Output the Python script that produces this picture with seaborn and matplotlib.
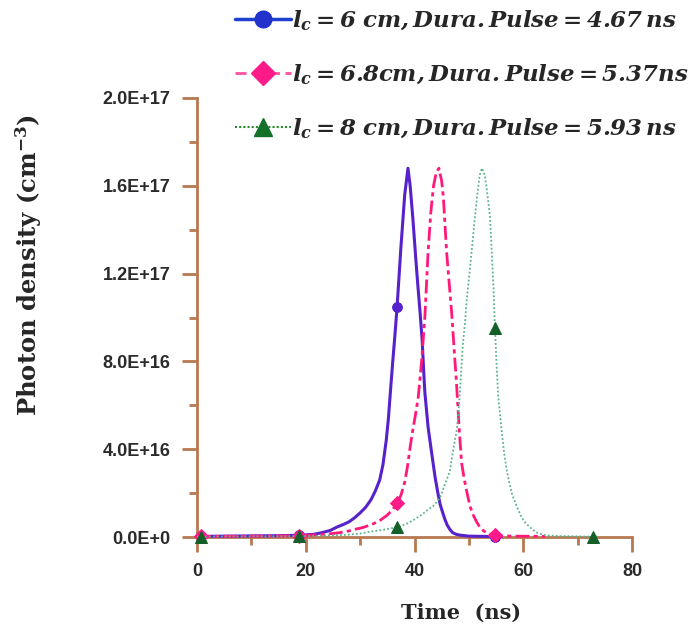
import numpy as np
import pandas as pd
import matplotlib
matplotlib.use("Agg")
import matplotlib.pyplot as plt
from matplotlib.lines import Line2D
from matplotlib.ticker import FixedLocator, MultipleLocator
import seaborn as sns

# ---------------- data (values in units of 1E15 cm^-3) ----------------
t_6cm = [0, 0.8, 5, 10, 15, 18.8, 21.4, 23, 24.5, 25.7, 27, 28, 29, 30, 31, 32,
         32.8, 33.6, 34.2, 34.8, 35.2, 35.5, 36, 36.4, 36.8, 37.5, 38.2, 38.8,
         39.2, 39.7, 40.2, 40.6, 41, 41.4, 41.7, 41.9, 42.2, 42.5, 43, 43.4, 43.8,
         44.3, 44.7, 45.2, 45.6, 46, 46.5, 47, 47.7, 48.5, 50, 54.8, 56]
v_6cm = [0.3, 0.3, 0.4, 0.5, 0.6, 0.8, 1.2, 2, 3, 4.5, 5.8, 7, 8.8, 11, 13.5, 17,
         21, 26, 33, 44, 54, 64, 80, 92, 105, 132, 156, 168,
         160, 145, 128, 115, 103, 90, 75, 66, 58, 50, 41, 34, 27,
         20, 15, 11, 8, 5.5, 3.5, 2, 1.2, 0.8, 0.4, 0.2, 0.2]

t_68cm = [0, 0.8, 10, 18.8, 21, 23, 24.5, 26.3, 28, 29, 30.5, 32.4, 33.8, 35, 36,
          36.8, 37.5, 38.2, 38.7, 39.2, 39.7, 40.2, 40.7, 41.3, 41.9, 42.5, 43,
          43.5, 44, 44.5, 45, 45.3, 45.9, 46.4, 46.9, 47.3, 47.7, 48.2, 48.65,
          49.1, 49.5, 50.2, 50.8, 51.4, 52, 52.6, 53.5, 54.8, 56, 58, 64]
v_68cm = [0.3, 0.3, 0.4, 0.6, 0.9, 1.2, 1.5, 2, 2.8, 3.5, 4.3, 6, 7.8, 10, 12.5,
          15.5, 19, 25, 32, 41, 49, 56, 64, 80, 100, 130, 148,
          160, 166, 168, 162, 155, 130, 115, 100, 85, 71, 50, 34,
          27, 22, 14, 10, 7, 4.5, 3, 1.6, 0.8, 0.5, 0.4, 0.3]

t_8cm = [0, 0.8, 10, 18.8, 23, 27.5, 30, 32, 34.5, 36.8, 38.5, 40, 41.5, 42.5,
         43.4, 44.1, 44.7, 45.3, 45.9, 46.5, 47, 47.5, 47.8, 48.3, 48.6, 48.9,
         49.3, 49.6, 50.1, 50.5, 51, 51.5, 52, 52.4, 52.9, 53.2, 53.6, 53.9,
         54.2, 54.5, 54.8, 55.1, 55.4, 56, 56.5, 57, 57.5, 58, 58.8, 59.5, 60.2,
         61.2, 62.3, 63.6, 65, 67, 70, 72.8, 74]
v_8cm = [0.2, 0.2, 0.3, 0.4, 0.6, 1, 1.6, 2.5, 3.4, 4.5, 6, 8, 10.5, 12.5,
         14, 16, 18, 22, 26, 30, 38, 45, 49, 64, 76, 88,
         98, 108, 120, 130, 143, 155, 165, 168, 165, 160, 152, 145,
         130, 115, 95, 78, 64, 49, 38, 30, 24, 19, 14, 10, 7,
         4.5, 2.2, 1, 0.6, 0.4, 0.3, 0.2, 0.2]

marker_times = [0.8, 18.8, 36.8, 54.8, 72.8]

labels = [r"$\mathbfit{l_c = 6\ cm, Dura.Pulse = 4.67\,ns}$",
          r"$\mathbfit{l_c = 6.8cm, Dura.Pulse = 5.37ns}$",
          r"$\mathbfit{l_c = 8\ cm, Dura.Pulse = 5.93\,ns}$"]

y_ticks = [0, 40, 80, 120, 160, 200]
y_ticklabels = ["0.0E+0", "4.0E+16", "8.0E+16", "1.2E+17", "1.6E+17", "2.0E+17"]
x_ticks = [0, 20, 40, 60, 80]

# ---------------- style ----------------
sns.set_theme(style="white")
plt.rcParams["font.family"] = ["DejaVu Sans"]
plt.rcParams["mathtext.fontset"] = "dejavuserif"

fig = plt.figure(figsize=(6.92, 6.35), dpi=100)
ax = fig.add_axes([0.2847, 0.1543, 0.6286, 0.6914])

series = [
    dict(t=t_6cm, v=v_6cm, color="#5522cc", ls="-", lw=2.2, marker="o", ms=7,
         mfc="#5522cc", leg_color="#1f3fd0", leg_mfc="#2233cc", leg_ls="-", leg_lw=2.5),
    dict(t=t_68cm, v=v_68cm, color="#ff1a7a", ls=(0, (5, 1.5, 1.5, 1.5)), lw=2.0,
         marker="D", ms=7, mfc="#ff1a8a", leg_color="#ff4fa0", leg_mfc="#ff1a8a",
         leg_ls=(0, (4, 2)), leg_lw=2.0),
    dict(t=t_8cm, v=v_8cm, color="#5ab48a", ls=(0, (1, 1.2)), lw=1.3, marker="^",
         ms=8, mfc="#15602a", leg_color="#2a8a2a", leg_mfc="#15702a",
         leg_ls=(0, (1, 1)), leg_lw=1.5),
]

handles = []
for s, lab in zip(series, labels):
    df = pd.DataFrame({"Time": s["t"], "Density": s["v"]})
    idx = [i for i, tt in enumerate(s["t"]) if tt in marker_times]
    sns.lineplot(data=df, x="Time", y="Density", ax=ax, color=s["color"],
                 linestyle=s["ls"], linewidth=s["lw"], marker=s["marker"],
                 markersize=s["ms"], markerfacecolor=s["mfc"],
                 markeredgecolor=s["mfc"], markevery=idx, sort=False,
                 estimator=None, clip_on=False, zorder=3)
    handles.append(Line2D([], [], color=s["leg_color"], linestyle=s["leg_ls"],
                          linewidth=s["leg_lw"], marker=s["marker"],
                          markersize=s["ms"] + 5, markerfacecolor=s["leg_mfc"],
                          markeredgecolor=s["leg_mfc"], markevery=[1]))

# axes styling
brown = "#b87850"
ax.set_xlim(0, 80)
ax.set_ylim(0, 200)
for sp in ["top", "right"]:
    ax.spines[sp].set_visible(False)
for sp in ["left", "bottom"]:
    ax.spines[sp].set_color(brown)
    ax.spines[sp].set_linewidth(2.0)

ax.xaxis.set_major_locator(FixedLocator(x_ticks))
ax.xaxis.set_minor_locator(MultipleLocator(10))
ax.yaxis.set_major_locator(FixedLocator(y_ticks))
ax.yaxis.set_minor_locator(MultipleLocator(20))
ax.set_yticklabels(y_ticklabels)
ax.set_xticklabels([str(x) for x in x_ticks])
ax.tick_params(which="major", direction="out", length=11, width=2.0, color=brown,
               left=True, bottom=True, pad=8)
ax.tick_params(which="minor", direction="out", length=5.5, width=2.0, color=brown,
               left=True, bottom=True)
for lbl in ax.get_xticklabels() + ax.get_yticklabels():
    lbl.set_fontfamily("Liberation Sans")
    lbl.set_fontweight("bold")
    lbl.set_fontsize(13)
    lbl.set_color("#2a2a2a")

ax.set_xlabel("Time  (ns)", fontfamily="DejaVu Serif", fontweight="bold",
              fontsize=15)
ax.xaxis.set_label_coords(0.607, -0.150)
ax.set_ylabel(r"Photon density (cm$^{\mathbf{-3}}$)", fontfamily="DejaVu Serif",
              fontweight="bold", fontsize=17.5)
ax.yaxis.set_label_coords(-0.352, 0.62)

leg = fig.legend(handles=handles, labels=labels, loc="upper left",
                 bbox_to_anchor=(0.336, 0.99), frameon=False, fontsize=16.5,
                 handlelength=2.45, handletextpad=0.05, labelspacing=1.3,
                 borderaxespad=0.0, borderpad=0.1)

fig.savefig("out.png", dpi=100)
